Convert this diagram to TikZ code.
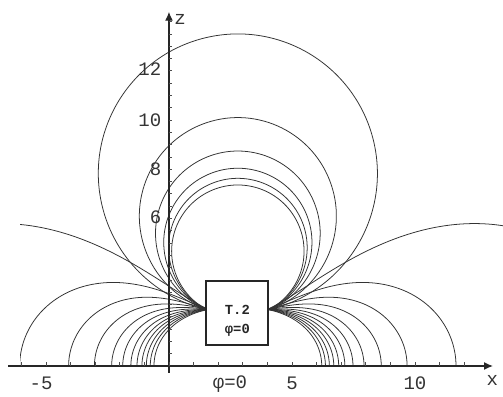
\documentclass[tikz,border=0pt]{standalone}
\usepackage{fontspec}
\setmainfont{Liberation Mono}
\setmonofont{Liberation Mono}
\usetikzlibrary{arrows.meta}
\pgfmathsetmacro\qd{1.2}
\pgfmathsetmacro\qh{2.3}
\pgfmathsetmacro\qA{\qd*\qd-\qh*\qh}
\pgfmathsetmacro\qB{2*\qd*\qh}
\def\qa{2.8}
\def\qc{1}\def\qr{1}
\def\cd{1.28}
\def\ch{2.3}
\newcommand\fieldloop[1]{%
 \pgfmathsetmacro\lzc{((#1)*(#1)-\cd*\cd-\ch*\ch)/(2*((#1)-\ch))}%
 \pgfmathsetmacro\lrad{(#1)-\lzc}%
 \pgfmathsetmacro\lth{atan((\lzc-\ch)/\cd)}%
 \draw[fline] (qR) arc[start angle=-\lth,end angle=180+\lth,radius=\lrad];%
}
\newcommand\fieldfoot[1]{%
 \pgfmathsetmacro\qal{360-2*atan(\qB/((#1)*(#1)-\qA))}%
 \pgfmathsetmacro\qc{cot(\qal)}%
 \pgfmathsetmacro\qr{-1/sin(\qal)}%
 \pgfmathsetmacro\qpa{-atan(\qc)}%
 \draw[fline] plot[domain=-92:\qpa,samples=250,variable=\t] ({\qa+fUR(\t)},{fY(\t)/(2*fUR(\t))});%
 \draw[fline] plot[domain=-92:\qpa,samples=250,variable=\t] ({\qa-fUR(\t)},{fY(\t)/(2*fUR(\t))});%
}
\begin{document}
\begin{tikzpicture}[x=0.5cm,y=0.5cm,
  declare function={
    fX(\t)=\qA-\qB*(\qc)-\qB*(\qr)*sin(\t);
    fY(\t)=\qB*(\qr)*cos(\t);
    fM(\t)=100*veclen(fX(\t)/100,fY(\t)/100);
    fUR(\t)=sqrt(max(0,(fM(\t)+fX(\t))/2));
  },
  fline/.style={line width=0.45pt,black!80},
  axis/.style={line width=0.7pt,black!85,-{Latex[length=1.8mm,width=1.6mm]}},
  tick/.style={line width=0.4pt,black!70},
  lab/.style={font=\fontsize{11}{13}\selectfont,text=black!80,inner sep=0pt},
  boxtext/.style={font=\fontsize{8}{10}\selectfont\bfseries,text=black!85,align=center},
  tbox/.style={draw=black!85,line width=1.2pt,fill=white,minimum width=1.26cm,minimum height=1.3cm,inner sep=0pt}]
\useasboundingbox (-6.87,-1.22) rectangle (13.58,14.88);
\coordinate (qR) at (2.8+\cd,\ch);
\coordinate (qL) at (2.8-\cd,\ch);
\begin{scope}
  \clip (-6.05,0) rectangle (13.58,14.88);
  \foreach \zt in {13.5,10.1,8.74,8.04,7.63,7.36} {\fieldloop{\zt}}
  \foreach \xf in {16.0,8.87,6.88,5.83,5.13,4.68,4.35,4.1,3.9,3.72,3.56,3.41} {\fieldfoot{\xf}}
\end{scope}
% axes
\coordinate (xs) at (-6.54,0);
\coordinate (xe) at (13.17,0);
\coordinate (zs) at (0,-0.28);
\coordinate (ze) at (0,14.4);
\draw[axis] (xs) -- (xe);
\draw[axis] (zs) -- (ze);
\foreach \i in {-6,...,12} {\draw[tick] (\i,0) -- (\i,0.16);}
\foreach \i in {1,...,28} {\draw[tick] (0,\i*0.5) -- (0.13,\i*0.5);}
% box
\node[tbox] (bx) at (2.78,2.15) {};
\node[boxtext] (bt) at (2.78,1.85) {T.2\\[1pt]φ=0};
% labels
\node[lab] (l5m) at (-5.2,-0.7) {-5};
\node[lab] (l5) at (5.0,-0.7) {5};
\node[lab] (l10) at (10.0,-0.7) {10};
\node[lab] (lx) at (13.15,-0.6) {x};
\node[lab] (lphi) at (2.48,-0.72) {φ=0};
\node[lab,anchor=east] (l6) at (-0.3,6.05) {6};
\node[lab,anchor=east] (l8) at (-0.3,8.0) {8};
\node[lab,anchor=east] (l10z) at (-0.3,10.0) {10};
\node[lab,anchor=east] (l12) at (-0.3,12.07) {12};
\node[lab] (lz) at (0.45,14.1) {z};
\end{tikzpicture}
\end{document}
